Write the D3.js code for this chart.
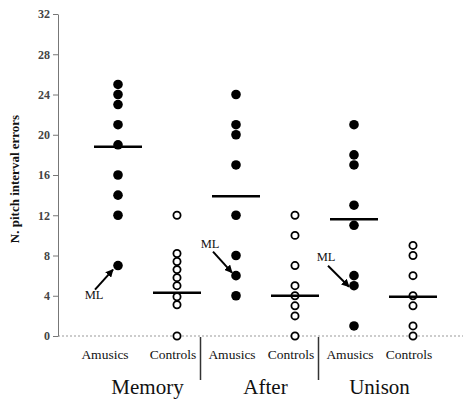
<!DOCTYPE html>
<html>
<head>
<meta charset="utf-8">
<script src="https://cdn.jsdelivr.net/npm/d3@7"></script>
<style>
  body { margin: 0; background: #fff; }
  text { font-family: "Liberation Serif", "Times New Roman", serif; }
</style>
</head>
<body>
<div id="chart"></div>
<script>
const groups = ["Memory", "After", "Unison"];
const subgroups = ["Amusics", "Controls"];
const yTicks = [0, 4, 8, 12, 16, 20, 24, 28, 32];

// values
const memoryAmusics = [25, 24, 23, 21, 19, 16, 14, 12, 7];
const memoryControls = [12, 8.2, 7.4, 6.6, 5.8, 5, 3.9, 3.1, 0];
const afterAmusics = [24, 21, 20, 17, 12, 8, 6, 4];
const afterControls = [12, 10, 7, 5, 4, 3, 2, 0];
const unisonAmusics = [21, 18, 17, 13, 11, 6, 5, 1];
const unisonControls = [9, 8, 6, 4, 3, 1, 0];
const centerLines = [18.8, 4.3, 13.9, 4, 11.6, 3.9];
// the ML participant in each amusic group
const mlValues = [7, 6, 5];

const W = 463, H = 403;
const svg = d3.select("#chart").append("svg")
  .attr("width", W).attr("height", H);

const y = d3.scaleLinear().domain([0, 32]).range([336, 14]);

const colKeys = [];
groups.forEach(g => subgroups.forEach(s => colKeys.push(g + "|" + s)));
const x = d3.scalePoint().domain(colKeys).range([118, 413]);

const series = [memoryAmusics, memoryControls, afterAmusics, afterControls, unisonAmusics, unisonControls];
const columns = colKeys.map((k, i) => ({
  key: k, group: k.split("|")[0], sub: k.split("|")[1],
  values: series[i], center: centerLines[i]
}));

// baseline (dashed)
svg.append("line")
  .attr("x1", 58).attr("x2", W)
  .attr("y1", y(0)).attr("y2", y(0))
  .attr("stroke", "#999").attr("stroke-width", 1)
  .attr("stroke-dasharray", "2,2");

// y axis
const yAxis = svg.append("g")
  .attr("transform", "translate(58,0)")
  .call(d3.axisLeft(y).tickValues(yTicks).tickSize(5).tickSizeOuter(0));
yAxis.select(".domain").attr("stroke", "#777");
yAxis.selectAll(".tick line").attr("stroke", "#777");
yAxis.selectAll(".tick text")
  .attr("font-family", "Liberation Serif")
  .attr("font-size", 12).attr("font-weight", "bold")
  .attr("fill", "#444").attr("x", -8);

svg.append("text")
  .attr("transform", `translate(19,${y(16) + 4})rotate(-90)`)
  .attr("text-anchor", "middle")
  .attr("font-size", 13).attr("font-weight", "bold")
  .attr("fill", "#111")
  .text("N. pitch interval errors");

// points
columns.forEach(c => {
  const amusic = c.sub === "Amusics";
  svg.append("g").selectAll("circle")
    .data(c.values)
    .enter().append("circle")
    .attr("cx", x(c.key))
    .attr("cy", d => y(d))
    .attr("r", amusic ? 4.8 : 3.6)
    .attr("fill", amusic ? "#000" : "#fff")
    .attr("stroke", "#000")
    .attr("stroke-width", amusic ? 0 : 1.8);

  svg.append("line")
    .attr("x1", x(c.key) - 24).attr("x2", x(c.key) + 24)
    .attr("y1", y(c.center)).attr("y2", y(c.center))
    .attr("stroke", "#000").attr("stroke-width", 2.5);
});

// ML arrows
svg.append("defs").append("marker")
  .attr("id", "arrow").attr("viewBox", "0 0 10 10")
  .attr("refX", 9).attr("refY", 5)
  .attr("markerWidth", 4).attr("markerHeight", 4)
  .attr("orient", "auto")
  .append("path").attr("d", "M0,0L10,5L0,10z").attr("fill", "#000");

const mlLabels = [
  { col: 0, tx: -24, ty: 33, sx: -23, sy: 24, ex: -5, ey: 4 },
  { col: 2, tx: -26, ty: -28, sx: -23, sy: -24, ex: -4, ey: -3 },
  { col: 4, tx: -28, ty: -25, sx: -26, sy: -20, ex: -5, ey: 1 }
];
mlLabels.forEach((m, i) => {
  const cx = x(colKeys[m.col]), cy = y(mlValues[i]);
  svg.append("text")
    .attr("x", cx + m.tx).attr("y", cy + m.ty)
    .attr("text-anchor", "middle")
    .attr("font-size", 12.5).attr("fill", "#111")
    .text("ML");
  svg.append("line")
    .attr("x1", cx + m.sx).attr("y1", cy + m.sy)
    .attr("x2", cx + m.ex).attr("y2", cy + m.ey)
    .attr("stroke", "#000").attr("stroke-width", 2)
    .attr("marker-end", "url(#arrow)");
});

// category labels
columns.forEach((c, i) => {
  svg.append("text")
    .attr("x", x(c.key) + (i === 0 ? -13 : -4))
    .attr("y", 359)
    .attr("text-anchor", "middle")
    .attr("font-size", 13.5).attr("fill", "#111")
    .text(c.sub);
});

// group labels and separators
groups.forEach((g, i) => {
  const x0 = x(g + "|Amusics"), x1 = x(g + "|Controls");
  svg.append("text")
    .attr("x", (x0 + x1) / 2 - (i === 2 ? 4 : 0))
    .attr("y", 394)
    .attr("text-anchor", "middle")
    .attr("font-size", 21).attr("fill", "#111")
    .text(g);
  if (i < groups.length - 1) {
    const sx = (x1 + x(groups[i + 1] + "|Amusics")) / 2 - 6;
    svg.append("line")
      .attr("x1", sx).attr("x2", sx)
      .attr("y1", y(0) + 1).attr("y2", 380)
      .attr("stroke", "#333").attr("stroke-width", 1.5);
  }
});
</script>
</body>
</html>
